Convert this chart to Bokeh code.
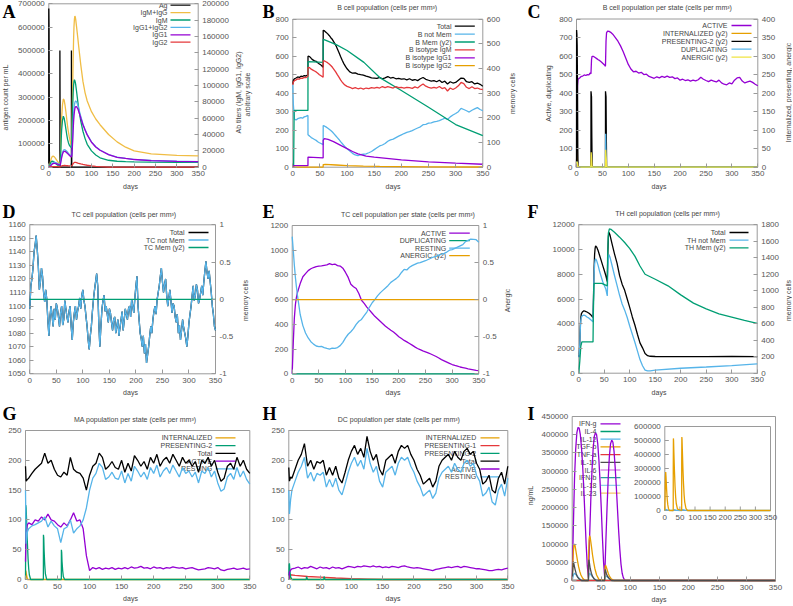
from math import pi
from bokeh.plotting import figure
from bokeh.models import Range1d, LinearAxis, FixedTicker, CustomJSTickFormatter, Label, Arrow
from bokeh.layouts import row, column
from bokeh.core.properties import value
from bokeh.embed import file_html
from bokeh.resources import INLINE

FONT = "Liberation Sans"
SERIF = "Liberation Serif"
TICK_COL = "#555555"
TEXT_COL = "#444444"
FRAME_COL = "#9a9a9a"

C_PURPLE = "#9400d3"
C_GREEN = "#009e73"
C_LBLUE = "#56b4e9"
C_ORANGE = "#e69f00"
C_YELLOW = "#f0e442"
C_RED = "#e5383b"
C_BLACK = "#000000"
C_GOLD = "#f0bd45"
C_GREY = "#4d4d4d"
LW = 1.3

x_ticks = [0, 50, 100, 150, 200, 250, 300, 350]

# ---------------- Panel A : antibody titers ----------------
a_yticks = [0, 100000, 200000, 300000, 400000, 500000, 600000, 700000]
a_y2ticks = [0, 20000, 40000, 60000, 80000, 100000, 120000, 140000, 160000, 180000, 200000]
a_ag_days = [0, 0, 0.5, 1.5, 26, 26, 26.8, 53, 53, 53.8, 350]
a_ag = [0, 680000, 600000, 0, 0, 500000, 0, 0, 500000, 0, 0]
a_days = [0, 2, 4, 6, 8, 10, 12, 14, 16, 18,
          20, 22, 24, 26, 27, 28, 29, 30, 32, 34,
          36, 38, 40, 42, 44, 46, 48, 50, 52, 53,
          54, 55, 56, 57, 58, 59, 60, 61, 62, 63,
          65, 68, 70, 75, 80, 85, 90, 100, 110, 120,
          140, 160, 180, 200, 240, 300, 350]
a_igm_igg = [0, 2000, 7000, 11000, 13000, 13500, 13000, 12000, 10500, 9000,
             7500, 6000, 4800, 3800, 8000, 25000, 45000, 60000, 76000, 83500,
             82000, 76000, 68000, 59000, 50000, 43000, 37000, 32000, 28000, 26500,
             40000, 70000, 100000, 130000, 155000, 172000, 181000, 185000, 184000, 181000,
             172000, 158000, 148000, 125000, 105000, 91000, 81000, 68000, 59000, 52000,
             40000, 31000, 24500, 20000, 16300, 14500, 13900]
a_igm = [0, 1500, 5000, 7000, 7500, 7200, 6500, 5500, 4500, 3500,
         2700, 2000, 1500, 1200, 5000, 18000, 33000, 45000, 57000, 62500,
         60000, 54000, 47000, 40000, 34000, 30000, 27000, 25500, 24500, 24000,
         35000, 55000, 75000, 90000, 100000, 105000, 107000, 106000, 104000, 101000,
         93000, 80000, 72000, 56000, 44000, 35000, 28000, 20000, 15000, 11500,
         8500, 7300, 6800, 6500, 6200, 6000, 6000]
a_igg12 = [0, 500, 2000, 3500, 4500, 5500, 6000, 6000, 5700, 5200,
           4700, 4200, 3700, 3200, 3500, 7000, 10000, 13500, 18000, 20500,
           21500, 21300, 20500, 19500, 18300, 17000, 15800, 14800, 14000, 13500,
           16000, 25000, 38000, 52000, 63000, 71000, 76000, 79000, 80500, 81000,
           80000, 76000, 72000, 62000, 53000, 46000, 40000, 31000, 25000, 21000,
           15500, 12200, 10800, 9500, 8200, 7300, 6900]
a_igg1 = [0, 400, 1600, 2800, 3800, 4500, 4800, 4800, 4600, 4200,
          3800, 3400, 3000, 2600, 2900, 5800, 8600, 11500, 16000, 18500,
          19500, 19300, 18700, 17800, 16800, 15700, 14600, 13600, 12900, 12500,
          14500, 22000, 33000, 45000, 55000, 63000, 68000, 71500, 73500, 74000,
          74000, 71500, 68500, 60000, 52000, 45500, 39500, 30500, 24800, 20800,
          15400, 12100, 10700, 9400, 8100, 7200, 6800]
a_igg2 = [0, 100, 300, 500, 600, 700, 800, 800, 750, 700,
          650, 600, 550, 500, 500, 800, 1200, 1500, 1800, 2000,
          2100, 2100, 2000, 1900, 1800, 1700, 1600, 1500, 1500, 1500,
          1800, 2500, 3500, 4300, 5000, 5500, 5800, 6000, 6000, 5900,
          5600, 5100, 4800, 4000, 3400, 2900, 2400, 1700, 1100, 600,
          200, 50, 0, 0, 0, 0, 0]

# ---------------- Panel B : B cells ----------------
b_yticks = [0, 100, 200, 300, 400, 500, 600, 700, 800]
b_y2ticks = [0, 100, 200, 300, 400, 500, 600]
b_days = [0, 1, 3, 6, 9, 12, 15, 18, 21, 24,
          27.9, 28, 31, 34, 37, 40, 43, 46, 49, 52,
          55.9, 56, 58, 61, 64, 67, 70, 73, 76, 79,
          82, 85, 88, 91, 94, 97, 100] + list(range(105, 351, 5))
b_total = [450, 470, 478, 482, 488, 485, 492, 490, 495, 493,
           500, 600, 598, 588, 580, 575, 572, 565, 558, 552,
           540, 740, 738, 730, 722, 712, 700, 690, 675, 660,
           640, 620, 598, 578, 560, 545, 532,
           515, 508, 510, 503, 500, 498, 492, 488, 483, 482,
           480, 485, 478, 483, 490, 482, 485, 478, 480, 476,
           478, 472, 478, 470, 474, 468, 478, 485, 475, 470,
           465, 468, 462, 470, 458, 465, 450, 462, 455, 458,
           470, 482, 480, 462, 458, 462, 450, 455, 448, 438]
b_not_mem = [450, 340, 260, 255, 262, 265, 268, 265, 272, 275,
             280, 175, 168, 160, 155, 150, 145, 138, 132, 128,
             122, 225, 223, 218, 212, 205, 198, 190, 180, 170,
             160, 150, 138, 128, 118, 108, 100,
             88, 75, 66, 62, 68, 70, 72, 78, 85, 95,
             105, 115, 120, 128, 140, 148, 152, 160, 168, 175,
             182, 188, 192, 198, 205, 212, 218, 230, 232, 238,
             240, 245, 248, 252, 258, 265, 258, 272, 282, 290,
             300, 318, 312, 305, 298, 308, 315, 322, 312, 305]
b_igm = [445, 460, 468, 472, 478, 476, 482, 480, 486, 484,
         492, 540, 538, 530, 525, 520, 515, 508, 500, 494,
         486, 575, 575, 570, 565, 558, 550, 540, 528, 515,
         500, 487, 472, 460, 450, 442, 437,
         432, 425, 430, 424, 428, 422, 428, 425, 430, 428,
         432, 428, 436, 430, 435, 432, 428, 436, 430, 432,
         428, 432, 430, 426, 434, 428, 440, 450, 438, 432,
         428, 432, 428, 436, 425, 430, 412, 428, 420, 428,
         440, 458, 452, 432, 425, 435, 425, 428, 422, 420]
b_mem_days = [0, 1.5, 2.5, 27.9, 28, 55.9, 56, 60, 80, 100, 131, 161, 200, 250, 300, 350]
b_mem = [0, 0, 230, 230, 428, 425, 518, 515, 497, 473, 425, 362, 311, 243, 173, 128]
b_igg1_days = [0, 2, 27.9, 28, 55.9, 56, 58, 65, 75, 90, 100, 110, 120, 135, 150, 200, 250, 300, 350]
b_igg1 = [0, 8, 8, 55, 50, 145, 155, 150, 138, 115, 100, 85, 72, 60, 54, 40, 29, 22, 16]
b_igg2_days = [0, 55.9, 56, 60, 80, 100, 130, 160, 200, 250, 350]
b_igg2 = [0, 0, 14, 15, 12, 9, 6, 4, 3, 2, 1]

# ---------------- Panel C : B cells per state ----------------
c_yticks = [0, 100, 200, 300, 400, 500, 600, 700, 800]
c_y2ticks = [0, 50, 100, 150, 200, 250, 300, 350, 400]
c_days = [0, 0.5, 1, 2, 3, 6, 9, 12, 15, 18,
          21, 24, 26, 27.9, 28, 29, 30, 33, 36, 39,
          42, 45, 48, 51, 54, 55.9, 56, 57, 58, 60,
          63, 66, 70, 75, 80, 85, 90, 95, 100, 105] + list(range(110, 351, 5))
c_active = [0, 100, 300, 440, 475, 482, 490, 492, 498, 495,
            500, 498, 508, 505, 510, 580, 598, 598, 592, 586,
            580, 575, 568, 560, 552, 545, 555, 680, 725, 735,
            733, 728, 718, 700, 680, 655, 625, 590, 555, 530,
            515, 518, 508, 512, 500, 502, 490, 485, 480,
            488, 482, 490, 485, 492, 485, 488, 478, 482, 470,
            475, 468, 472, 465, 470, 466, 472, 486, 475, 468,
            462, 470, 465, 460, 470, 455, 448, 445, 455, 450,
            470, 482, 485, 465, 455, 460, 465, 458, 448, 440]
c_pres_days = [0, 0.2, 0.7, 1.3, 2, 2.5, 3, 27.9, 28, 29, 29.6, 30.2, 55.9, 56, 57, 57.6, 58.2, 350]
c_pres = [0, 370, 360, 330, 200, 50, 0, 0, 205, 190, 80, 0, 0, 205, 190, 80, 0, 0]
c_int_days = [0, 0.5, 1, 2, 3, 27.9, 28.3, 29, 30, 55.9, 56.3, 57, 58, 350]
c_int = [0, 42, 35, 15, 0, 0, 20, 8, 0, 0, 20, 8, 0, 0]
c_dup_days = [0, 0.5, 1.5, 2.5, 27.9, 28.5, 29.5, 55.9, 56.3, 57, 58, 350]
c_dup = [0, 30, 10, 0, 0, 10, 0, 0, 180, 60, 0, 0]
c_anerg_days = [0, 1, 2, 3, 27.9, 28.3, 29, 30, 55.9, 56.3, 57, 58.5, 350]
c_anerg = [0, 15, 10, 0, 0, 40, 25, 0, 0, 47, 30, 0, 0]

# ---------------- Panel D : TC cells ----------------
d_yticks = [1050, 1060, 1070, 1080, 1090, 1100, 1110, 1120, 1130, 1140, 1150, 1160]
d_y2ticks = [-1, -0.5, 0, 0.5, 1]
d_days = list(range(0, 351, 2))
d_not_mem = [1098, 1115, 1120, 1128, 1140, 1145, 1152, 1142, 1130, 1112,
             1118, 1128, 1122, 1110, 1103, 1112, 1105, 1090, 1078, 1092,
             1100, 1093, 1085, 1098, 1090, 1102, 1098, 1092, 1085, 1095,
             1100, 1086, 1090, 1104, 1098, 1092, 1088, 1096, 1100, 1085,
             1075, 1088, 1095, 1100, 1090, 1096, 1100, 1106, 1098, 1108,
             1112, 1104, 1100, 1092, 1085, 1075, 1068, 1078, 1085, 1096,
             1105, 1112, 1118, 1124, 1115, 1088, 1070, 1085, 1098, 1104,
             1108, 1096, 1100, 1094, 1088, 1098, 1095, 1088, 1082, 1090,
             1092, 1080, 1085, 1090, 1078, 1084, 1090, 1096, 1082, 1090,
             1098, 1094, 1090, 1098, 1100, 1092, 1105, 1100, 1095, 1106,
             1115, 1122, 1100, 1090, 1080, 1076, 1070, 1078, 1065, 1072,
             1058, 1064, 1070, 1078, 1085, 1080, 1090, 1096, 1100, 1094,
             1105, 1110, 1115, 1122, 1128, 1118, 1110, 1116, 1120, 1108,
             1100, 1106, 1112, 1104, 1095, 1102, 1100, 1092, 1088, 1094,
             1080, 1086, 1075, 1082, 1090, 1084, 1080, 1076, 1070, 1078,
             1088, 1094, 1100, 1108, 1115, 1104, 1108, 1116, 1112, 1102,
             1105, 1110, 1115, 1108, 1118, 1126, 1133, 1125, 1120, 1126,
             1118, 1110, 1100, 1094, 1085, 1082]
d_total = d_not_mem
d_mem_days = [0, 350]
d_mem = [0, 0]

# ---------------- Panel E : TC per state ----------------
e_yticks = [0, 200, 400, 600, 800, 1000, 1200]
e_y2ticks = [-1, -0.5, 0, 0.5, 1]
e_days = [0, 2, 4, 6, 8, 10] + list(range(15, 351, 5))
e_active = [0, 250, 450, 560, 620, 660,
            730, 785, 810, 835, 850, 860, 868, 872, 874, 878,
            882, 892, 884, 888, 875, 872, 855, 820, 780, 725,
            705, 690, 650, 595, 570, 540, 515, 490, 465, 445,
            425, 405, 385, 368, 352, 338, 320, 300, 285, 270,
            258, 245, 232, 218, 205, 195, 185, 178, 170, 160,
            150, 140, 128, 115, 105, 95, 85, 75, 68, 62,
            55, 50, 45, 40, 36, 32, 28, 25]
e_resting = [1110, 1000, 880, 780, 700, 630,
             480, 390, 330, 290, 260, 240, 225, 220, 222, 212,
             205, 200, 208, 205, 212, 228, 255, 290, 320, 340,
             365, 400, 425, 440, 470, 500, 540, 575, 600, 630,
             655, 675, 695, 715, 740, 755, 770, 790, 820, 845,
             840, 862, 875, 885, 895, 900, 908, 915, 925, 935,
             945, 950, 960, 968, 975, 985, 1000, 1005, 1015, 1025,
             1035, 1045, 1070, 1080, 1090, 1088, 1085, 1065]
e_flat_days = [0, 350]
e_dup = [0, 0]
e_anerg = [0, 0]

# ---------------- Panel F : TH cells ----------------
f_yticks = [0, 2000, 4000, 6000, 8000, 10000, 12000]
f_y2ticks = [0, 200, 400, 600, 800, 1000, 1200, 1400, 1600, 1800]
f_days = [0, 1, 2, 3, 4, 5, 7, 10, 13, 16,
          20, 24, 27.9, 28, 29, 30, 31, 32, 33, 35,
          38, 41, 44, 47, 50, 53, 55.9, 56, 57, 58,
          59, 61, 65, 70, 75, 80, 85, 90, 95, 100,
          105, 110, 115, 120, 125, 130, 135, 140, 150, 200,
          250, 300, 350]
f_total = [1300, 1500, 2500, 3800, 4500, 4800, 4950, 5050, 5000, 4950,
           4850, 4700, 4500, 4700, 6500, 8500, 9600, 10100, 10300, 10200,
           9900, 9500, 9100, 8700, 8300, 7900, 7400, 7600, 9800, 11000,
           11400, 11200, 10500, 9650, 8900, 7900, 7200, 6700, 6000, 5300,
           4550, 3900, 3150, 2450, 2050, 1600, 1420, 1370, 1350, 1340,
           1340, 1350, 1340]
f_not_mem = [1300, 1500, 2400, 3600, 4300, 4500, 4650, 4700, 4650, 4550,
             4450, 4300, 4150, 4300, 6300, 8000, 8800, 9150, 9250, 9100,
             8700, 8200, 7800, 7400, 7100, 6800, 6250, 6400, 8400, 9300,
             9600, 9400, 8750, 7900, 7100, 6300, 5600, 5100, 4500, 3800,
             3150, 2500, 1800, 1100, 600, 250, 180, 190, 250, 400,
             500, 620, 750]
f_mem_days = [0, 2, 4, 6, 27.9, 28.5, 29.5, 30, 45, 55.9,
              56.5, 58, 60, 63, 70, 80, 90, 100, 110, 120,
              130, 140, 150, 175, 200, 225, 250, 275, 300, 325, 350]
f_mem = [0, 150, 330, 380, 380, 700, 1050, 1090, 1090, 1060,
         1400, 1700, 1750, 1745, 1710, 1650, 1585, 1510, 1420, 1300,
         1200, 1170, 1140, 1060, 950, 850, 780, 720, 680, 640, 605]

# ---------------- Panel G : macrophages ----------------
gh_yticks = [0, 50, 100, 150, 200, 250]
g_days = [0, 1, 3] + list(range(5, 351, 5))
g_total = [190, 165, 168,
           170, 178, 185, 190, 195, 212, 195, 200, 185, 175,
           172, 180, 175, 205, 185, 180, 178, 170, 150, 175,
           190, 195, 212, 205, 185, 190, 198, 188, 185, 200,
           180, 195, 182, 208, 200, 190, 198, 185, 205, 195,
           210, 190, 200, 205, 195, 210, 200, 190, 205, 195,
           200, 190, 198, 180, 200, 195, 205, 190, 200, 180,
           165, 170, 190, 195, 185, 205, 190, 200, 185, 178]
g_resting = [150, 60, 80,
             85, 90, 92, 95, 98, 105, 88, 98, 90, 85,
             62, 85, 88, 100, 78, 85, 90, 100, 120, 150,
             170, 178, 195, 188, 168, 172, 180, 170, 168, 182,
             162, 178, 165, 190, 182, 172, 180, 168, 188, 178,
             192, 172, 182, 188, 178, 192, 182, 172, 188, 178,
             182, 172, 180, 162, 182, 178, 188, 172, 182, 162,
             148, 152, 172, 178, 168, 188, 172, 182, 168, 160]
g_active = [30, 80, 92,
            95, 92, 100, 98, 105, 100, 110, 100, 98, 92,
            88, 95, 90, 100, 112, 98, 100, 85, 40, 15,
            20, 18, 20, 17, 19, 18, 20, 17, 19, 18,
            20, 18, 21, 19, 20, 22, 19, 20, 18, 21,
            19, 20, 18, 20, 19, 21, 20, 19, 20, 18,
            19, 20, 18, 16, 17, 18, 20, 19, 18, 20,
            16, 15, 17, 18, 19, 17, 18, 19, 17, 18]
g_pres_days = [0, 0.5, 1, 2, 3, 4, 5, 6, 8, 27.9, 28, 28.5, 29, 30, 31, 33,
               55.9, 56, 56.5, 57, 58, 59, 61, 350]
g_pres = [0, 125, 120, 90, 60, 35, 18, 8, 0, 0, 75, 70, 50, 25, 10, 0,
          0, 50, 45, 30, 15, 5, 0, 0]
g_int_days = [0, 0.5, 1.5, 3, 350]
g_int = [0, 15, 8, 0, 0]

# ---------------- Panel H : dendritic cells ----------------
h_days = [0, 1, 3] + list(range(5, 351, 5))
h_total = [188, 165, 172,
           170, 185, 200, 210, 228, 190, 200, 185, 198, 195,
           200, 175, 188, 175, 190, 170, 162, 180, 200, 215,
           225, 210, 220, 205, 240, 215, 200, 210, 185, 175,
           200, 205, 210, 195, 215, 225, 220, 225, 210, 200,
           185, 175, 160, 165, 170, 155, 165, 190, 200, 205,
           210, 200, 215, 205, 200, 215, 220, 210, 215, 195,
           185, 160, 165, 175, 150, 145, 170, 180, 160, 190]
h_resting = [150, 110, 135,
             150, 165, 180, 190, 205, 170, 180, 165, 178, 175,
             180, 155, 168, 155, 170, 150, 142, 160, 180, 195,
             205, 190, 200, 185, 220, 195, 180, 190, 165, 155,
             180, 185, 190, 175, 195, 205, 200, 205, 190, 180,
             165, 155, 140, 145, 150, 136, 145, 170, 180, 185,
             190, 180, 195, 185, 180, 195, 200, 190, 195, 175,
             165, 140, 145, 155, 130, 125, 150, 160, 140, 170]
h_active = [0, 12, 16,
            18, 19, 21, 18, 20, 19, 22, 20, 18, 21,
            19, 20, 18, 21, 19, 20, 18, 20, 22, 21,
            20, 22, 21, 23, 22, 21, 23, 21, 22, 20,
            21, 20, 22, 21, 20, 22, 23, 21, 20, 19,
            20, 19, 18, 17, 16, 15, 17, 18, 19, 20,
            21, 20, 21, 22, 20, 22, 21, 20, 19, 18,
            18, 17, 16, 15, 15, 16, 17, 16, 18, 19]
h_p1_days = [0, 2, 10, 30, 50, 75, 100, 125, 150, 350]
h_p1 = [0, 8, 7, 5, 4, 2.5, 1.5, 0.7, 0, 0]
h_p2_days = [0, 0.5, 1, 2, 3, 5, 27.9, 28.3, 29, 30, 55.9, 56.3, 57, 58, 350]
h_p2 = [0, 25, 27, 12, 4, 0, 0, 5, 3, 0, 0, 5, 3, 0, 0]
h_int_days = [0, 0.5, 2, 4, 350]
h_int = [0, 8, 4, 0, 0]

# ---------------- Panel I : cytokines ----------------
i_yticks = [0, 50000, 100000, 150000, 200000, 250000, 300000, 350000, 400000, 450000]
i_ifn_days = [0, 2, 4, 6, 8, 10, 12, 14, 16, 18,
              20, 22, 24, 26, 27.9, 28, 29, 30, 32, 34,
              36, 38, 40, 42, 44, 46, 48, 50, 52, 54,
              55.9, 56, 57, 58, 60, 62, 64, 66, 68, 70,
              72, 74, 76, 78, 80, 82, 84, 86, 88, 90,
              92, 350]
i_ifn = [0, 150000, 280000, 360000, 405000, 420000, 418000, 400000, 365000, 315000,
         250000, 175000, 100000, 40000, 8000, 8000, 60000, 120000, 220000, 300000,
         360000, 395000, 405000, 400000, 375000, 330000, 270000, 200000, 120000, 50000,
         10000, 10000, 60000, 110000, 200000, 280000, 340000, 375000, 385000, 380000,
         355000, 310000, 255000, 195000, 135000, 85000, 45000, 20000, 8000, 2000,
         0, 0]
i_tgf_days = [0, 1, 2, 3, 4, 5, 7, 9, 11, 13,
              15, 18, 22, 27.9, 28, 29, 30, 31, 33, 35,
              37, 39, 42, 46, 55.9, 56, 57, 58, 60, 62,
              64, 67, 72, 350]
i_tgf = [0, 40000, 80000, 97000, 100000, 95000, 75000, 55000, 38000, 25000,
         15000, 6000, 0, 0, 60000, 110000, 123000, 118000, 95000, 70000,
         50000, 33000, 15000, 3000, 0, 25000, 42000, 40000, 30000, 20000,
         12000, 5000, 0, 0]
i_il10_days = [0, 1, 2, 3, 5, 7, 9, 12, 16, 27.9, 28, 28.7, 29.5, 31, 33, 35, 38, 42,
               55.9, 56, 56.7, 57.5, 59, 61, 64, 68, 350]
i_il10 = [0, 30000, 52000, 45000, 30000, 18000, 10000, 4000, 0, 0, 35000, 57000, 50000, 33000, 20000, 11000, 4000, 0,
          0, 20000, 30000, 27000, 18000, 11000, 5000, 0, 0]
i_il12_days = [0, 2, 4, 6, 9, 12, 16, 27.9, 28.5, 30, 32, 35, 38, 42, 55.9, 56.5, 58, 60, 63, 66, 70, 350]
i_il12 = [0, 15000, 20000, 17000, 11000, 6000, 0, 0, 12000, 20000, 16000, 10000, 5000, 0, 0, 8000, 13000, 10000, 6000, 2000, 0, 0]
i_flat_days = [0, 350]
i_flat = [0, 0]
inset_xticks = [0, 50, 100, 150, 200, 250, 300, 350]
inset_yticks = [0, 100000, 200000, 300000, 400000, 500000, 600000]
il2_days = [0, 1, 2, 3, 4, 6, 8, 10, 12, 15,
            27.9, 28, 28.5, 29, 30, 32, 34, 36, 38, 42,
            55.9, 56, 56.5, 57, 58, 60, 62, 64, 66, 70,
            75, 350]
il2 = [0, 100000, 230000, 275000, 240000, 150000, 80000, 40000, 15000, 0,
       0, 300000, 515000, 500000, 420000, 280000, 170000, 95000, 50000, 10000,
       0, 350000, 525000, 510000, 440000, 300000, 190000, 110000, 60000, 15000,
       0, 0]
dsig_days = [0, 3, 10, 28, 31, 40, 56, 59, 70, 80, 350]
dsig = [0, 8000, 2000, 0, 6000, 1000, 0, 6000, 1000, 0, 0]


# ---------------- helpers ----------------
def style_axis(ax, ticks, label_text=None):
    ax.ticker = FixedTicker(ticks=ticks)
    ax.formatter = CustomJSTickFormatter(code="return String(tick)")
    ax.major_label_text_font = FONT
    ax.major_label_text_font_size = "8px"
    ax.major_label_text_color = TICK_COL
    ax.axis_line_color = None
    ax.major_tick_in = 4
    ax.major_tick_out = 0
    ax.major_tick_line_color = FRAME_COL
    ax.minor_tick_line_color = None
    ax.major_label_standoff = 4
    if label_text is not None:
        ax.axis_label = label_text
        ax.axis_label_text_font = FONT
        ax.axis_label_text_font_size = "7px"
        ax.axis_label_text_color = TEXT_COL
        ax.axis_label_text_font_style = "normal"
        ax.axis_label_standoff = 3


def panel(W, H, box, ylim, yticks, y2lim=None, y2ticks=None):
    # box = plot-box pixel edges (left, right, top, bottom) inside a canvas whose frame is the whole canvas
    bl, br, bt, bb = box
    kx = 350.0 / (br - bl)
    y0, y1 = ylim
    ky = (y1 - y0) / (bb - bt)
    p = figure(width=W, height=H,
               x_range=Range1d(-bl * kx, 350 + (W - br) * kx),
               y_range=Range1d(y0 - (H - bb) * ky, y1 + bt * ky),
               min_border=0, output_backend="svg", toolbar_location=None,
               x_axis_location=None, y_axis_location=None)
    p.title_location = None
    p.outline_line_color = None
    p.grid.visible = False
    p.background_fill_color = "white"
    p.border_fill_color = "white"
    p.quad(left=[0], right=[350], bottom=[y0], top=[y1], fill_color=None,
           line_color=FRAME_COL, line_width=1)
    xa = LinearAxis(fixed_location=y0)
    style_axis(xa, x_ticks, "days")
    p.add_layout(xa, "below")
    ya = LinearAxis(fixed_location=0)
    style_axis(ya, yticks)
    p.add_layout(ya, "left")
    if y2lim is not None:
        z0, z1 = y2lim
        kz = (z1 - z0) / (bb - bt)
        p.extra_y_ranges = {"y2": Range1d(z0 - (H - bb) * kz, z1 + bt * kz)}
        ya2 = LinearAxis(fixed_location=350, y_range_name="y2")
        style_axis(ya2, y2ticks)
        p.add_layout(ya2, "right")
    return p


def label(p, H, x, ytop, text, size="7px", align="center", baseline="middle", angle=0.0,
          color=TEXT_COL, font=FONT, style="normal", level="annotation"):
    p.add_layout(Label(x=x, y=H - ytop, x_units="screen", y_units="screen", text=text,
                       text_font=font, text_font_size=size, text_font_style=style,
                       text_color=color, text_align=align, text_baseline=baseline,
                       angle=angle, level=level))


def key(p, H, names, colors, tx, l0, l1, top, gap):
    for i, (n, c) in enumerate(zip(names, colors)):
        yt = top + i * gap
        label(p, H, tx, yt, n, align="right", level="underlay")
        p.add_layout(Arrow(end=None, x_start=l0, y_start=H - yt, x_end=l1, y_end=H - yt,
                           start_units="screen", end_units="screen",
                           line_color=c, line_width=LW, level="underlay"))


def letter(p, H, ch, top=1):
    label(p, H, 2, top, ch, size="18px", font=SERIF, style="bold",
          color="black", align="left", baseline="top")


W0, W1, W2 = 260, 265, 267
H0, H1, H2 = 200, 200, 205

# ---------------- A ----------------
pA = panel(W0, H0, (48.3, 197.7, 3.3, 166.7), (0, 700000), a_yticks, (0, 200000), a_y2ticks)
key(pA, H0, ["Ag", "IgM+IgG", "IgM", "IgG1+IgG2", "IgG1", "IgG2"],
    [C_BLACK, C_GOLD, C_GREEN, C_LBLUE, C_PURPLE, C_RED], 167, 170, 190, 4.7, 7.4)
pA.line(a_ag_days, a_ag, line_color=C_BLACK, line_width=LW)
pA.line(a_days, a_igm_igg, line_color=C_GOLD, line_width=LW, y_range_name="y2")
pA.line(a_days, a_igm, line_color=C_GREEN, line_width=LW, y_range_name="y2")
pA.line(a_days, a_igg12, line_color=C_LBLUE, line_width=LW, y_range_name="y2")
pA.line(a_days, a_igg1, line_color=C_PURPLE, line_width=LW, y_range_name="y2")
pA.line(a_days, a_igg2, line_color=C_RED, line_width=LW, y_range_name="y2")
letter(pA, H0, "A")
label(pA, H0, 5, 97, "antigen count per mL", angle=pi / 2)
label(pA, H0, 238, 92, "Ab titers (IgM, IgG1, IgG2)", angle=pi / 2)
label(pA, H0, 247, 94, "arbitrary scale", angle=pi / 2)

# ---------------- B ----------------
pB = panel(W1, H0, (32.3, 222.3, 18.7, 166.7), (0, 800), b_yticks, (0, 600), b_y2ticks)
key(pB, H0, ["Total", "B not Mem", "B Mem (y2)", "B isotype IgM", "B isotype IgG1", "B isotype IgG2"],
    [C_BLACK, C_LBLUE, C_GREEN, C_RED, C_PURPLE, C_ORANGE], 191, 194.3, 214.3, 25.7, 7.9)
pB.line(b_days, b_total, line_color=C_BLACK, line_width=LW)
pB.line(b_days, b_not_mem, line_color=C_LBLUE, line_width=LW)
pB.line(b_mem_days, b_mem, line_color=C_GREEN, line_width=LW, y_range_name="y2")
pB.line(b_days, b_igm, line_color=C_RED, line_width=LW)
pB.line(b_igg1_days, b_igg1, line_color=C_PURPLE, line_width=LW)
pB.line(b_igg2_days, b_igg2, line_color=C_ORANGE, line_width=LW)
letter(pB, H0, "B")
label(pB, H0, 126.7, 6.7, "B cell population (cells per mm³)")
label(pB, H0, 251.7, 93, "memory cells", angle=pi / 2)

# ---------------- C ----------------
pC = panel(W2, H0, (51, 232.3, 18.5, 166.7), (0, 800), c_yticks, (0, 400), c_y2ticks)
key(pC, H0, ["ACTIVE", "INTERNALIZED (y2)", "PRESENTING-2 (y2)", "DUPLICATING", "ANERGIC (y2)"],
    [C_PURPLE, C_ORANGE, C_BLACK, C_LBLUE, C_YELLOW], 202, 206, 226, 25, 7.9)
pC.line(c_days, c_active, line_color=C_PURPLE, line_width=LW)
pC.line(c_int_days, c_int, line_color=C_ORANGE, line_width=LW, y_range_name="y2")
pC.line(c_pres_days, c_pres, line_color=C_BLACK, line_width=LW, y_range_name="y2")
pC.line(c_dup_days, c_dup, line_color=C_LBLUE, line_width=LW)
pC.line(c_anerg_days, c_anerg, line_color=C_YELLOW, line_width=LW, y_range_name="y2")
letter(pC, H0, "C")
label(pC, H0, 142.8, 6.7, "B cell population  per state (cells per mm³)")
label(pC, H0, 23.3, 93, "Active, duplicating", angle=pi / 2)
label(pC, H0, 262.5, 92, "Internalized, presenting, anergic", angle=pi / 2)

# ---------------- D ----------------
pD = panel(W0, H1, (29.3, 215, 24.3, 173.3), (1050, 1160), d_yticks, (-1, 1), d_y2ticks)
key(pD, H1, ["Total", "TC not Mem", "TC Mem (y2)"],
    [C_BLACK, C_LBLUE, C_GREEN], 184, 188, 208, 32, 7.5)
pD.line(d_days, d_total, line_color=C_BLACK, line_width=LW)
pD.line(d_days, d_not_mem, line_color=C_LBLUE, line_width=LW)
pD.line(d_mem_days, d_mem, line_color=C_GREEN, line_width=LW, y_range_name="y2")
letter(pD, H1, "D")
label(pD, H1, 123.3, 14, "TC cell population (cells per mm³)")
label(pD, H1, 245, 100, "memory cells", angle=pi / 2)

# ---------------- E ----------------
pE = panel(W1, H1, (31.7, 218.3, 25, 173.3), (0, 1200), e_yticks, (-1, 1), e_y2ticks)
key(pE, H1, ["ACTIVE", "DUPLICATING", "RESTING", "ANERGIC (y2)"],
    [C_PURPLE, C_GREEN, C_LBLUE, C_ORANGE], 185.7, 188.7, 209.3, 32.7, 7.5)
pE.line(e_days, e_active, line_color=C_PURPLE, line_width=LW)
pE.line(e_flat_days, e_dup, line_color=C_GREEN, line_width=LW)
pE.line(e_days, e_resting, line_color=C_LBLUE, line_width=LW)
pE.line(e_flat_days, e_anerg, line_color=C_ORANGE, line_width=LW, y_range_name="y2")
letter(pE, H1, "E")
label(pE, H1, 147.5, 14, "TC cell population per state (cells per mm³)")
label(pE, H1, 246.7, 100, "Anergic", angle=pi / 2)

# ---------------- F ----------------
pF = panel(W2, H1, (53.3, 231.7, 24.3, 172.7), (0, 12000), f_yticks, (0, 1800), f_y2ticks)
key(pF, H1, ["Total", "TH not Mem", "TH Mem (y2)"],
    [C_BLACK, C_LBLUE, C_GREEN], 200, 204, 223, 32, 7.7)
pF.line(f_days, f_total, line_color=C_BLACK, line_width=LW)
pF.line(f_days, f_not_mem, line_color=C_LBLUE, line_width=LW)
pF.line(f_mem_days, f_mem, line_color=C_GREEN, line_width=LW, y_range_name="y2")
letter(pF, H1, "F")
label(pF, H1, 142, 13.3, "TH cell population (cells per mm³)")
label(pF, H1, 262.5, 100, "memory cells", angle=pi / 2)

# ---------------- G ----------------
pG = panel(W0, H2, (25, 249.3, 30, 179), (0, 250), gh_yticks)
key(pG, H2, ["INTERNALIZED", "PRESENTING-2", "Total", "ACTIVE", "RESTING"],
    [C_ORANGE, C_GREEN, C_BLACK, C_PURPLE, C_LBLUE], 211.7, 215, 235, 37.3, 7.75)
pG.line(g_int_days, g_int, line_color=C_ORANGE, line_width=LW)
pG.line(g_pres_days, g_pres, line_color=C_GREEN, line_width=LW)
pG.line(g_days, g_total, line_color=C_BLACK, line_width=LW)
pG.line(g_days, g_active, line_color=C_PURPLE, line_width=LW)
pG.line(g_days, g_resting, line_color=C_LBLUE, line_width=LW)
letter(pG, H2, "G", top=3)
label(pG, H2, 134.7, 19.3, "MA population per state (cells per mm³)")

# ---------------- H ----------------
pH = panel(W1, H2, (28.3, 247.3, 30, 179), (0, 250), gh_yticks)
key(pH, H2, ["INTERNALIZED", "PRESENTING-1", "PRESENTING-2", "Total", "ACTIVE", "RESTING"],
    [C_ORANGE, C_RED, C_GREEN, C_BLACK, C_PURPLE, C_LBLUE], 215.7, 220, 239, 37.3, 7.8)
pH.line(h_int_days, h_int, line_color=C_ORANGE, line_width=LW)
pH.line(h_p1_days, h_p1, line_color=C_RED, line_width=LW)
pH.line(h_p2_days, h_p2, line_color=C_GREEN, line_width=LW)
pH.line(h_days, h_total, line_color=C_BLACK, line_width=LW)
pH.line(h_days, h_active, line_color=C_PURPLE, line_width=LW)
pH.line(h_days, h_resting, line_color=C_LBLUE, line_width=LW)
letter(pH, H2, "H", top=3)
label(pH, H2, 138.3, 19.3, "DC population per state (cells per mm³)")

# ---------------- I ----------------
iW, iH = W2, H2
ibox = (46.7, 250, 16, 180)
pI = panel(iW, iH, ibox, (0, 450000), i_yticks)
i_names = ["IFN-g", "IL-4", "IL-12", "TGF-b", "TNF-a", "IL-10", "IL-6", "IFN-b", "IL-18", "IL-23"]
i_colors = [C_PURPLE, C_GREEN, C_LBLUE, C_ORANGE, C_RED, C_GREY, "#d98ce6", "#2a9d9d", "#8fd0e8", "#f5c46a"]
key(pI, iH, i_names, i_colors, 71, 75, 95, 23.3, 7.7)
pI.line(i_ifn_days, i_ifn, line_color=C_PURPLE, line_width=LW)
pI.line(i_flat_days, i_flat, line_color=C_GREEN, line_width=LW)
pI.line(i_il12_days, i_il12, line_color=C_LBLUE, line_width=LW)
pI.line(i_tgf_days, i_tgf, line_color=C_ORANGE, line_width=LW)
pI.line(i_flat_days, i_flat, line_color=C_RED, line_width=LW)
pI.line(i_il10_days, i_il10, line_color=C_GREY, line_width=LW)
letter(pI, iH, "I", top=3)
label(pI, iH, 5, 95, "ng/mL", angle=pi / 2)

# inset: its own ranges mapped onto a sub-box of the canvas
in_l, in_r, in_t, in_b = 139.3, 245, 26, 110
kxi = 350.0 / (in_r - in_l)
kyi = 600000.0 / (in_b - in_t)
pI.extra_x_ranges = {"ix": Range1d(-in_l * kxi, 350 + (iW - in_r) * kxi)}
pI.extra_y_ranges = {"iy": Range1d(-(iH - in_b) * kyi, 600000 + in_t * kyi)}
pI.quad(left=[0], right=[350], bottom=[0], top=[600000], x_range_name="ix", y_range_name="iy",
        fill_color="white", line_color=FRAME_COL, line_width=1)
pI.segment(x0=inset_xticks, y0=[0] * len(inset_xticks), x1=inset_xticks,
           y1=[4 * kyi] * len(inset_xticks), x_range_name="ix", y_range_name="iy",
           line_color=FRAME_COL, line_width=1)
pI.segment(x0=[0] * len(inset_yticks), y0=inset_yticks, x1=[4 * kxi] * len(inset_yticks),
           y1=inset_yticks, x_range_name="ix", y_range_name="iy",
           line_color=FRAME_COL, line_width=1)
pI.text(x=[0] * len(inset_yticks), y=inset_yticks, text=[str(v) for v in inset_yticks],
        x_range_name="ix", y_range_name="iy", x_offset=-4, text_font=value(FONT),
        text_font_size="8px", text_color=TICK_COL, text_align="right", text_baseline="middle")
pI.text(x=inset_xticks, y=[0] * len(inset_xticks), text=[str(v) for v in inset_xticks],
        x_range_name="ix", y_range_name="iy", y_offset=4, text_font=value(FONT),
        text_font_size="8px", text_color=TICK_COL, text_align="center", text_baseline="top")
key(pI, iH, ["D", "IL-2"], [C_LBLUE, C_ORANGE], 159, 163, 183, 32.7, 8)
pI.line(dsig_days, dsig, line_color=C_LBLUE, line_width=LW, x_range_name="ix", y_range_name="iy")
pI.line(il2_days, il2, line_color=C_ORANGE, line_width=LW, x_range_name="ix", y_range_name="iy")

layout = column(row(pA, pB, pC), row(pD, pE, pF), row(pG, pH, pI))
open("out.html", "w").write(file_html(layout, INLINE, title="C-ImmSim"))
